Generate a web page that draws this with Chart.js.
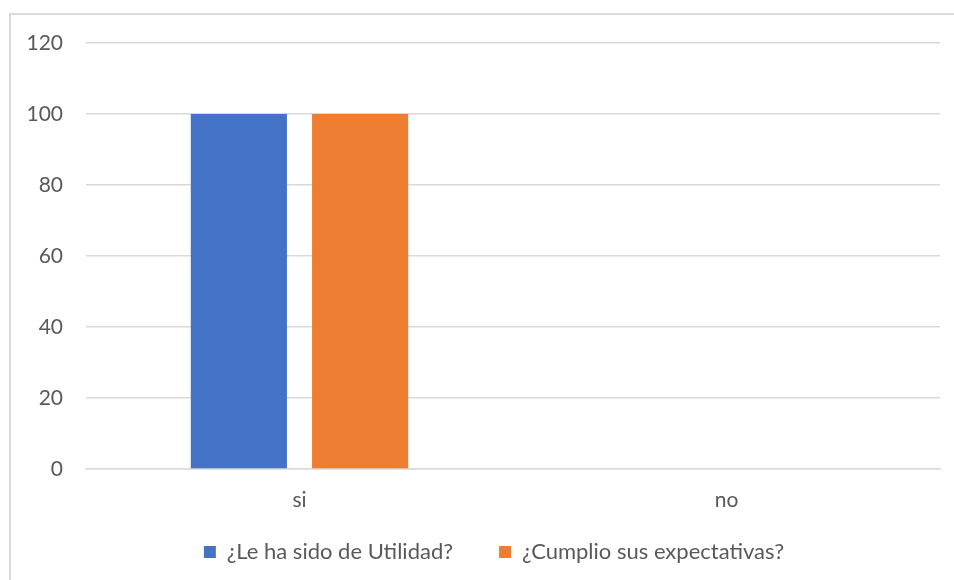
<!DOCTYPE html>
<html>
<head>
<meta charset="utf-8">
<script src="https://cdn.jsdelivr.net/npm/chart.js@4/dist/chart.umd.min.js"></script>
<style>
  html, body { margin: 0; padding: 0; background: #fff; overflow: hidden; }
  #wrap { position: relative; width: 954px; height: 580px; }
  #frame { position: absolute; left: 9px; top: 13px; width: 1000px; height: 1000px; border: 2px solid #d9d9d9; box-sizing: border-box; }
  canvas { position: absolute; left: 0; top: 0; }
</style>
</head>
<body>
<div id="wrap">
  <div id="frame"></div>
  <canvas id="c" width="954" height="580"></canvas>
</div>
<script>
const categories = ["si", "no"];
const seriesNames = ["¿Le ha sido de Utilidad?", "¿Cumplio sus expectativas?"];
const utilidadValues = [100, 0];
const expectativasValues = [100, 0];
const yTicks = [0, 20, 40, 60, 80, 100, 120];

const FONT = "Lato, 'Open Sans', sans-serif";
const TEXT = "#595959";
const GRID = "#d9d9d9";
const LEGEND_SHIFT_X = 48;
const LEGEND_SHIFT_Y = 14;

const legendNudge = {
  id: "legendNudge",
  afterLayout(chart) {
    const lg = chart.legend;
    if (!lg) return;
    lg.left += LEGEND_SHIFT_X;
    lg.width -= LEGEND_SHIFT_X;
    lg.top -= LEGEND_SHIFT_Y;
    lg.bottom -= LEGEND_SHIFT_Y;
  }
};

new Chart(document.getElementById("c"), {
  type: "bar",
  data: {
    labels: categories,
    datasets: [
      { label: seriesNames[0], data: utilidadValues, backgroundColor: "#4472C4", borderWidth: 0 },
      { label: seriesNames[1], data: expectativasValues, backgroundColor: "#ED7D31", borderWidth: 0 }
    ]
  },
  plugins: [legendNudge],
  options: {
    responsive: false,
    animation: false,
    categoryPercentage: 0.568,
    barPercentage: 0.793,
    layout: { padding: { left: 0, right: 14, top: 43, bottom: 8 - LEGEND_SHIFT_Y - 1 } },
    plugins: {
      tooltip: { enabled: false },
      legend: {
        position: "bottom",
        labels: {
          color: TEXT,
          font: { family: FONT, size: 22 },
          boxWidth: 12,
          boxHeight: 12,
          padding: 46,
          useBorderRadius: false
        }
      }
    },
    scales: {
      x: {
        grid: { display: false, drawTicks: false },
        border: { display: true, color: GRID, width: 1.5 },
        ticks: { color: TEXT, font: { family: FONT, size: 21 }, padding: 19 },
        afterFit(scale) { scale.height = 40; }
      },
      y: {
        min: 0,
        max: 120,
        afterBuildTicks(scale) { scale.ticks = yTicks.map(v => ({ value: v })); },
        grid: { color: GRID, lineWidth: 1.5, drawTicks: false },
        border: { display: false },
        ticks: { color: TEXT, font: { family: FONT, size: 21 }, padding: 23 },
        afterFit(scale) { scale.width = 86; }
      }
    }
  }
});
</script>
</body>
</html>
